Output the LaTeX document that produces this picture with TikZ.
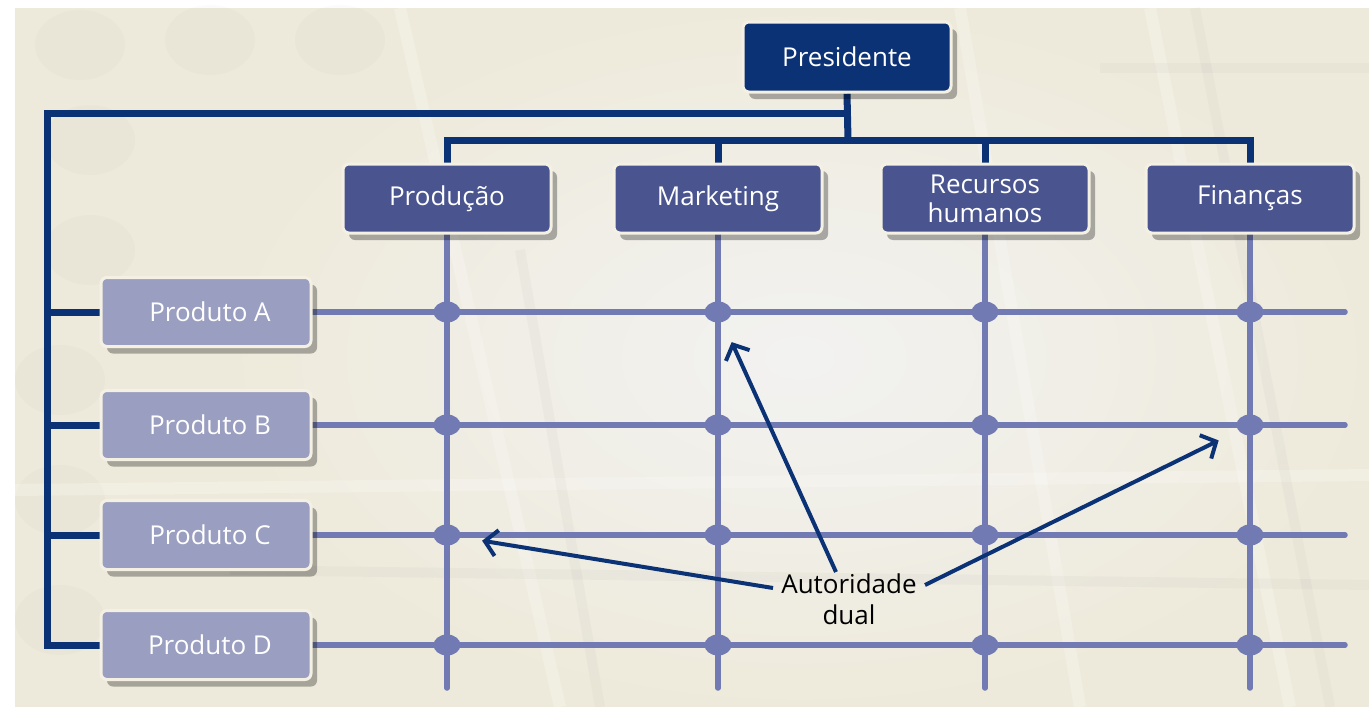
\documentclass[tikz,border=0pt]{standalone}
\usepackage{fontspec}
\setmainfont{Open Sans}
\usetikzlibrary{arrows.meta,shadows,shapes.geometric}
\definecolor{navy}{HTML}{0B3275}
\definecolor{deptc}{HTML}{4A5590}
\definecolor{prodc}{HTML}{9A9EC0}
\definecolor{gridc}{HTML}{717AB2}
\definecolor{cream}{HTML}{F4F1E4}
\definecolor{bgc}{HTML}{EEEADB}
\definecolor{bgin}{HTML}{F2F2F1}
\pgfdeclarelayer{bglayer}
\pgfdeclarelayer{lines}
\pgfsetlayers{bglayer,lines,main}
\begin{document}
\begin{tikzpicture}[x=1pt,y=-1pt,
  box/.style={draw=cream, line width=3pt, rounded corners=6pt, text=white, align=center,
    font=\fontsize{26}{29}\selectfont, inner sep=0pt,
    drop shadow={shadow xshift=6pt, shadow yshift=-7pt, fill=black, opacity=0.3}},
  presbox/.style={box, fill=navy, minimum width=208pt, minimum height=70pt},
  deptbox/.style={box, fill=deptc, minimum width=208pt, minimum height=69pt},
  prodbox/.style={box, fill=prodc, minimum width=210pt, minimum height=69pt},
  bus/.style={draw=navy, line width=7pt, line join=miter},
  gridline/.style={draw=gridc, line width=5.5pt, line cap=round},
  dotn/.style={ellipse, fill=gridc, minimum width=27pt, minimum height=21pt, inner sep=0pt},
  authar/.style={draw=navy, line width=4pt, -{Straight Barb[length=12pt,width=26pt,line width=4pt]}, shorten >=22pt},
  lbl/.style={font=\fontsize{26}{31}\selectfont, align=center, text=black}
]
\useasboundingbox (0,0) rectangle (1369,707);

% nodes
\node[presbox] (pres) at (847,57) {Presidente};
\node[deptbox] (prod) at (447,198.5) {Produção};
\node[deptbox] (mkt)  at (718,198.5) {Marketing};
\node[deptbox] (rh)   at (985,198.5) {Recursos\\humanos};
\node[deptbox] (fin)  at (1250,198.5) {Finanças};
\node[prodbox] (pA) at (206,312) {\hspace*{8pt}Produto A};
\node[prodbox] (pB) at (206,425) {\hspace*{8pt}Produto B};
\node[prodbox] (pC) at (206,535) {\hspace*{8pt}Produto C};
\node[prodbox] (pD) at (206,645) {\hspace*{8pt}Produto D};

\coordinate (j1) at (848,113);
\coordinate (j2) at (848,140);
\coordinate (lb) at (47,113);
\coordinate (eA) at (1345,312);
\coordinate (eB) at (1345,425);
\coordinate (eC) at (1345,535);
\coordinate (eD) at (1345,645);
\coordinate (bP) at (447,688);
\coordinate (bM) at (718,688);
\coordinate (bR) at (985,688);
\coordinate (bF) at (1250,688);

% dots
\foreach \c/\b in {prod/P,mkt/M,rh/R,fin/F}{
  \foreach \r in {A,B,C,D}{
    \node[dotn] (d\b\r) at (b\b |- e\r) {};
  }
}

% label
\node[lbl] (auth) at (849,599) {Autoridade\\dual};
\coordinate (s1) at (836,572);
\coordinate (s2) at (925,585);
\coordinate (s3) at (773,588);
\draw[authar] (s1) -- (dMA);
\draw[authar] (s2) -- (dFB);
\draw[authar] (s3) -- (dPC);

% background
\begin{pgfonlayer}{bglayer}
  \fill[bgc] (15,8) rectangle (1369,707);
  \shade[inner color=bgin, outer color=bgc] (230,8) rectangle (1369,707);
  \begin{scope}[opacity=0.035]
    \foreach \cx/\cy in {80/45, 210/40, 340/40, 90/140, 90/250, 60/380, 60/500, 60/620}{
      \fill[gray] (\cx,\cy) ellipse (45pt and 35pt);
    }
  \end{scope}
  \begin{scope}[draw=white, line width=12pt, opacity=0.22]
    \draw (1150,8) -- (1290,707);
    \draw (960,8) -- (1080,707);
    \draw (15,490) -- (1369,475);
    \draw (400,8) -- (560,707);
  \end{scope}
  \begin{scope}[draw=gray, line width=10pt, opacity=0.05]
    \draw (1195,8) -- (1330,707);
    \draw (1100,68) -- (1369,68);
    \draw (600,707) -- (520,250);
    \draw (230,570) -- (1369,585);
  \end{scope}
\end{pgfonlayer}

% lines
\begin{pgfonlayer}{lines}
  \draw[bus] (pres.south) -- (j2);
  \draw[bus] (j1) -- (lb) -- (lb |- pD.west) -- (pD.west);
  \draw[bus] (lb |- pA.west) -- (pA.west);
  \draw[bus] (lb |- pB.west) -- (pB.west);
  \draw[bus] (lb |- pC.west) -- (pC.west);
  \draw[bus] (prod.north) -- (prod.north |- j2) -- (fin.north |- j2) -- (fin.north);
  \draw[bus] (mkt.north |- j2) -- (mkt.north);
  \draw[bus] (rh.north |- j2) -- (rh.north);
  \draw[gridline] (pA.east) -- (eA);
  \draw[gridline] (pB.east) -- (eB);
  \draw[gridline] (pC.east) -- (eC);
  \draw[gridline] (pD.east) -- (eD);
  \draw[gridline] (prod.south) -- (bP);
  \draw[gridline] (mkt.south) -- (bM);
  \draw[gridline] (rh.south) -- (bR);
  \draw[gridline] (fin.south) -- (bF);
\end{pgfonlayer}
\end{tikzpicture}
\end{document}
